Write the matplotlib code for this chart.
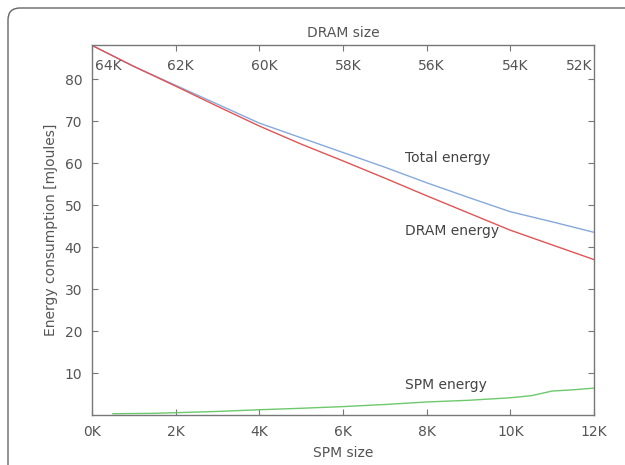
import numpy as np
import matplotlib
matplotlib.use('Agg')
import matplotlib.pyplot as plt
from matplotlib.patches import PathPatch
from matplotlib.path import Path
from matplotlib.transforms import ScaledTranslation

# SPM size in K (bottom axis)
spm_size = [0, 1, 2, 3, 4, 5, 6, 7, 8, 9, 10, 11, 12]
total_energy = [88, 83, 78.5, 74, 69.5, 66, 62.5, 59, 55.3, 51.8, 48.4, 46, 43.5]
dram_energy = [88, 83, 78.3, 73.5, 68.8, 64.5, 60.5, 56.4, 52.2, 48.1, 44.0, 40.5, 37]

spm_x = [0.5, 1, 1.5, 2, 3, 4, 5, 6, 7, 8, 9, 10, 10.5, 11, 11.5, 12]
spm_energy = [0.3, 0.35, 0.4, 0.55, 0.85, 1.25, 1.6, 2.0, 2.5, 3.1, 3.5, 4.1, 4.6, 5.7, 6.0, 6.4]

bottom_ticks = [0, 2, 4, 6, 8, 10, 12]
bottom_labels = ['0K', '2K', '4K', '6K', '8K', '10K', '12K']
top_labels = ['64K', '62K', '60K', '58K', '56K', '54K', '52K']
y_ticks = [10, 20, 30, 40, 50, 60, 70, 80]

txt = '#555555'
frame = '#777777'

W, H = 625, 465
fig = plt.figure(figsize=(W / 100, H / 100), dpi=100)

# panel border: left and top edges with a rounded corner, running off the image
verts = [(8 / W, -0.1), (8 / W, 1 - 20 / H), (8 / W, 1 - 8 / H),
         (20 / W, 1 - 8 / H), (1.1, 1 - 8 / H)]
codes = [Path.MOVETO, Path.LINETO, Path.CURVE3, Path.CURVE3, Path.LINETO]
fig.patches.append(PathPatch(Path(verts, codes), transform=fig.transFigure,
                             fill=False, edgecolor='#666666', linewidth=1.0))

ax = fig.add_axes([92 / W, 50 / H, 502 / W, 370 / H])

ax.plot(spm_size, total_energy, color='#86a9dc', linewidth=1.0)
ax.plot(spm_size, dram_energy, color='#e05555', linewidth=1.0)
ax.plot(spm_x, spm_energy, color='#6cc96c', linewidth=1.0)

ax.set_xlim(0, 12)
ax.set_ylim(0, 88.1)
ax.set_xticks(bottom_ticks)
ax.set_xticklabels(bottom_labels)
ax.set_yticks(y_ticks)
ax.tick_params(axis='both', direction='in', length=4, color=frame,
               labelcolor=txt, labelsize=10, right=True, pad=7)
for s in ax.spines.values():
    s.set_color(frame)
    s.set_linewidth(1.0)

ax.set_xlabel('SPM size', color=txt, fontsize=10, labelpad=5)
ax.set_ylabel('Energy consumption [mJoules]', color=txt, fontsize=10, labelpad=5)

ax.text(7.48, 61.2, 'Total energy', color='#444444', fontsize=10, va='center')
ax.text(7.48, 43.8, 'DRAM energy', color='#444444', fontsize=10, va='center')
ax.text(7.48, 7.1, 'SPM energy', color='#444444', fontsize=10, va='center')

# top axis: DRAM size, labels drawn inside the plot
ax2 = ax.twiny()
ax2.set_xlim(ax.get_xlim())
ax2.set_xticks(bottom_ticks)
ax2.set_xticklabels(top_labels)
ax2.tick_params(axis='x', direction='in', length=4, color=frame,
                labelcolor=txt, labelsize=10, pad=-20)
for s in ax2.spines.values():
    s.set_visible(False)
labels = ax2.get_xticklabels()
for i, lab in enumerate(labels):
    if i == 0:
        lab.set_ha('left')
        dx = 3
    elif i == len(labels) - 1:
        lab.set_ha('right')
        dx = -2
    else:
        dx = 5
    lab.set_transform(lab.get_transform() + ScaledTranslation(dx / 100, 0, fig.dpi_scale_trans))
ax2.set_xlabel('DRAM size', color=txt, fontsize=10, labelpad=6)

fig.savefig('out.png', dpi=100)
